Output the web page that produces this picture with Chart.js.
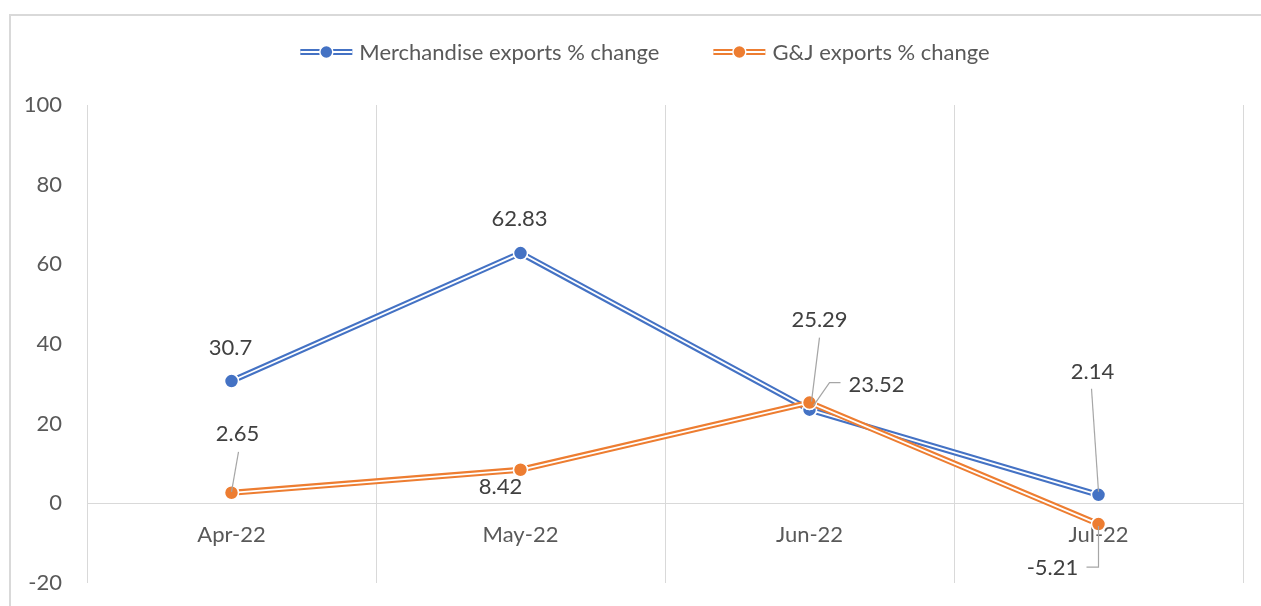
<!DOCTYPE html>
<html><head><meta charset="utf-8">
<script src="https://cdn.jsdelivr.net/npm/chart.js@4.4.0/dist/chart.umd.min.js"></script>
<style>html,body{margin:0;padding:0;background:#fff}#wrap{width:1261px;height:606px}</style>
</head><body><div id="wrap"><canvas id="c" width="1261" height="606"></canvas></div>
<script>
// ---- data ----
const categories = ['Apr-22', 'May-22', 'Jun-22', 'Jul-22'];
const merchandiseExports = [30.7, 62.83, 23.52, 2.14];
const gjExports = [2.65, 8.42, 25.29, -5.21];
const yTicks = [-20, 0, 20, 40, 60, 80, 100];
const seriesNames = ['Merchandise exports % change', 'G&J exports % change'];

// ---- styles ----
const seriesColors = ['#4472C4', '#ED7D31'];
const FONT = 'Lato';
const FONT_SIZE = 22;
const LINE_W = 6;
const INNER_W = 1.8;

// label placement (pixel offsets from each point), purely presentational
const labelLayout = [
  [ {dx:-1, dy:-33}, {dx:-1, dy:-34},
    {dx:67, dy:-25, leader:[[31,-27],[20,-27],[4,-4]]},
    {dx:-6, dy:-123, leader:[[-7,-106],[0,-3]]} ],
  [ {dx:6, dy:-59, leader:[[7,-41],[0,-1]]}, {dx:-20, dy:17},
    {dx:10, dy:-83, leader:[[10,-65],[2,-1]]},
    {dx:-46, dy:44, leader:[[-12,43],[0,43],[0,2]]} ]
];

function drawDoubleSeg(ctx, x0, y0, x1, y1, color) {
  ctx.save();
  ctx.lineCap = 'butt';
  ctx.strokeStyle = color; ctx.lineWidth = LINE_W;
  ctx.beginPath(); ctx.moveTo(x0, y0); ctx.lineTo(x1, y1); ctx.stroke();
  ctx.strokeStyle = '#fff'; ctx.lineWidth = INNER_W;
  ctx.beginPath(); ctx.moveTo(x0, y0); ctx.lineTo(x1, y1); ctx.stroke();
  ctx.restore();
}

const framePlugin = {
  id: 'frame',
  beforeDraw(chart) {
    const ctx = chart.ctx;
    ctx.save();
    ctx.fillStyle = '#fff';
    ctx.fillRect(0, 0, chart.width, chart.height);
    ctx.strokeStyle = '#d9d9d9'; ctx.lineWidth = 2;
    ctx.strokeRect(10, 15, 1400, 800);
    ctx.restore();
  }
};

const doubleLinePlugin = {
  id: 'doubleLine',
  afterDatasetDraw(chart, args) {
    const meta = args.meta, pts = meta.data, ctx = chart.ctx;
    ctx.save();
    ctx.strokeStyle = '#fff'; ctx.lineWidth = INNER_W; ctx.lineJoin = 'miter';
    ctx.beginPath();
    pts.forEach((p, i) => i ? ctx.lineTo(p.x, p.y) : ctx.moveTo(p.x, p.y));
    ctx.stroke();
    ctx.restore();
    pts.forEach(p => p.draw(ctx, chart.chartArea));
  }
};

const dataLabelPlugin = {
  id: 'dataLabels',
  afterDatasetsDraw(chart) {
    const ctx = chart.ctx;
    ctx.save();
    chart.data.datasets.forEach((ds, di) => {
      const meta = chart.getDatasetMeta(di);
      meta.data.forEach((p, i) => {
        const L = labelLayout[di][i];
        if (L.leader) {
          ctx.strokeStyle = '#a6a6a6'; ctx.lineWidth = 1.2;
          ctx.beginPath();
          L.leader.forEach((q, k) => k ? ctx.lineTo(p.x + q[0], p.y + q[1]) : ctx.moveTo(p.x + q[0], p.y + q[1]));
          ctx.stroke();
        }
        ctx.fillStyle = '#404040';
        ctx.font = FONT_SIZE + 'px ' + FONT;
        ctx.textAlign = 'center'; ctx.textBaseline = 'middle';
        ctx.fillText(String(ds.data[i]), p.x + L.dx, p.y + L.dy);
      });
    });
    ctx.restore();
  }
};

const legendPlugin = {
  id: 'customLegend',
  afterDraw(chart) {
    const ctx = chart.ctx;
    ctx.save();
    ctx.font = FONT_SIZE + 'px ' + FONT;
    const markW = 52, gapText = 7, gapItem = 54, cy = 52, cx = 645;
    const items = chart.data.datasets.map(d => ({label: d.label, color: d.borderColor, w: ctx.measureText(d.label).width}));
    let total = 0;
    items.forEach((it, i) => { total += markW + gapText + it.w + (i ? gapItem : 0); });
    let x = cx - total / 2;
    items.forEach((it, i) => {
      if (i) x += gapItem;
      drawDoubleSeg(ctx, x, cy, x + markW, cy, it.color);
      ctx.beginPath(); ctx.arc(x + markW / 2, cy, 6.5, 0, Math.PI * 2);
      ctx.fillStyle = it.color; ctx.fill();
      ctx.strokeStyle = '#fff'; ctx.lineWidth = 1.5; ctx.stroke();
      x += markW + gapText;
      ctx.fillStyle = '#595959'; ctx.textAlign = 'left'; ctx.textBaseline = 'middle';
      ctx.fillText(it.label, x, cy + 1);
      x += it.w;
    });
    ctx.restore();
  }
};

const pointStyleFor = c => ({
  borderColor: c, backgroundColor: c, borderWidth: LINE_W,
  pointRadius: 7, pointHoverRadius: 7, pointBackgroundColor: c,
  pointBorderColor: '#fff', pointBorderWidth: 1.5,
  tension: 0, borderJoinStyle: 'miter', clip: false
});

new Chart(document.getElementById('c'), {
  type: 'line',
  data: {
    labels: categories,
    datasets: [
      Object.assign({label: seriesNames[0], data: merchandiseExports, order: 1}, pointStyleFor(seriesColors[0])),
      Object.assign({label: seriesNames[1], data: gjExports, order: 0}, pointStyleFor(seriesColors[1]))
    ]
  },
  options: {
    responsive: false,
    animation: false,
    devicePixelRatio: 1,
    layout: {padding: {top: 105, left: 0, right: 18, bottom: 23}},
    plugins: {legend: {display: false}, tooltip: {enabled: false}},
    scales: {
      x: {
        position: {y: 0},
        offset: true,
        afterFit: s => { s.height = 0; s.paddingTop = 0; s.paddingBottom = 0; },
        grid: {display: true, offset: true, color: '#d9d9d9', lineWidth: 1, drawTicks: false},
        border: {display: true, color: '#d9d9d9', width: 1},
        ticks: {color: '#595959', font: {family: FONT, size: FONT_SIZE}, padding: 18, maxRotation: 0, autoSkip: false}
      },
      y: {
        min: -20, max: 100,
        afterBuildTicks: s => { s.ticks = yTicks.map(v => ({value: v})); },
        afterFit: s => { s.width = 87; s.paddingTop = 0; s.paddingBottom = 0; },
        grid: {display: false, drawTicks: false},
        border: {display: false},
        ticks: {color: '#595959', font: {family: FONT, size: FONT_SIZE}, padding: 25}
      }
    }
  },
  plugins: [framePlugin, doubleLinePlugin, dataLabelPlugin, legendPlugin]
});
</script>
</body></html>
